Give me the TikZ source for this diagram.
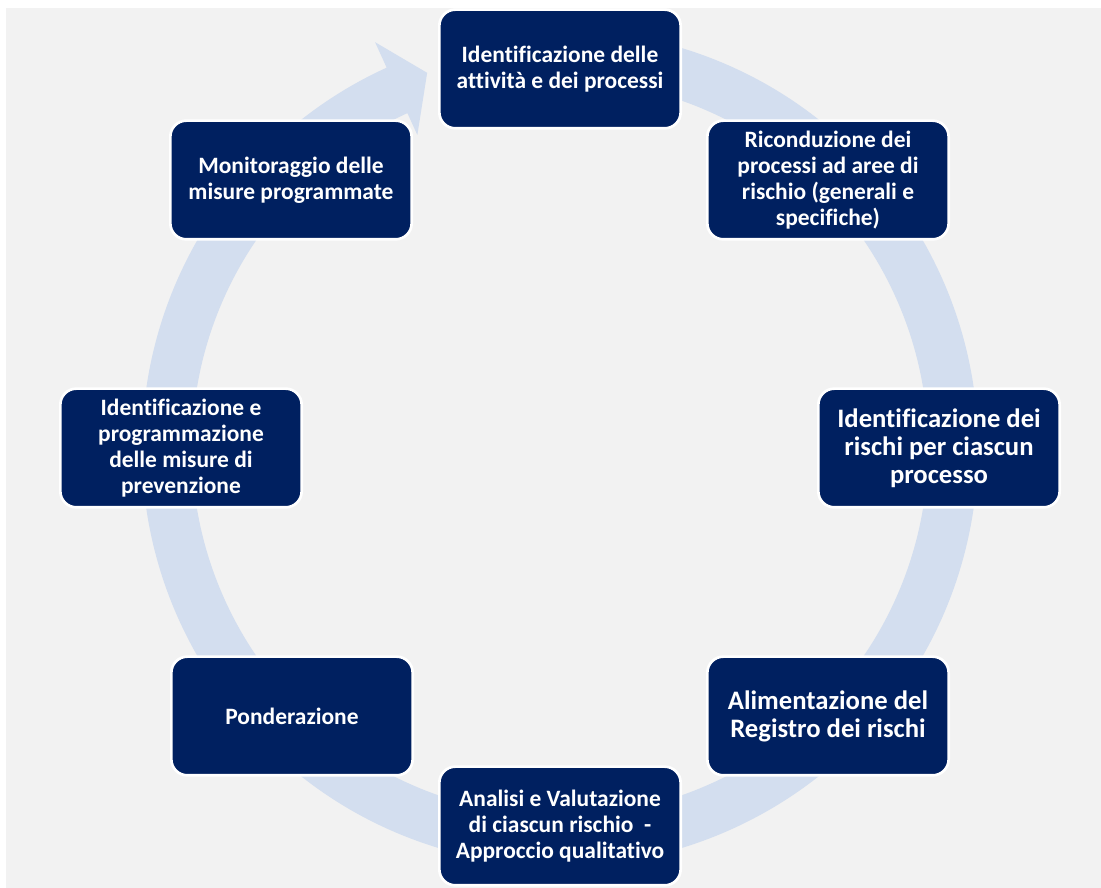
\documentclass[tikz,border=0pt]{standalone}
\usepackage{fontspec}
\setmainfont{Carlito}[Ligatures={NoCommon}]
\definecolor{navy}{HTML}{002060}
\definecolor{band}{HTML}{D3DEEF}
\definecolor{bggray}{HTML}{F2F2F2}
\begin{document}
\begin{tikzpicture}[x=0.75pt,y=0.75pt,
  stepbox/.style={fill=navy,draw=white,line width=2pt,rounded corners=12pt,
    minimum width=181pt,minimum height=89pt,inner sep=2pt,align=center,
    text=white,font=\fontsize{17.6}{19.5}\selectfont\bfseries},
  bigbox/.style={stepbox,font=\fontsize{20}{21}\selectfont\bfseries}]
\useasboundingbox (0,0) rectangle (1101,888);
\fill[bggray] (6,0) rectangle (1101,880);
% circular arrow
\begin{scope}[shift={(560,440)}]
\fill[band] (80:313.5pt) arc[start angle=80,end angle=-245.5,radius=313.5pt]
  -- (114.5:334.5pt) -- (109.5:298.5pt) -- (114.5:258pt) -- (114.5:276pt)
  arc[start angle=-245.5,end angle=80,radius=276pt] -- cycle;
\end{scope}
\node[stepbox] (n1) at (560,819) {Identificazione delle\\attività e dei processi};
\node[stepbox] (n2) at (828,708) {Riconduzione dei\\processi ad aree di\\rischio (generali e\\specifiche)};
\node[bigbox] (n3) at (939,440) {Identificazione dei\\rischi per ciascun\\processo};
\node[bigbox] (n4) at (828,172) {Alimentazione del\\Registro dei rischi};
\node[stepbox] (n5) at (560,62) {Analisi e Valutazione\\di ciascun rischio\ \ -\\Approccio qualitativo};
\node[stepbox] (n6) at (292,172) {Ponderazione};
\node[stepbox] (n7) at (181,440) {Identificazione e\\programmazione\\delle misure di\\prevenzione};
\node[stepbox] (n8) at (291,708) {Monitoraggio delle\\misure programmate};
\end{tikzpicture}
\end{document}
